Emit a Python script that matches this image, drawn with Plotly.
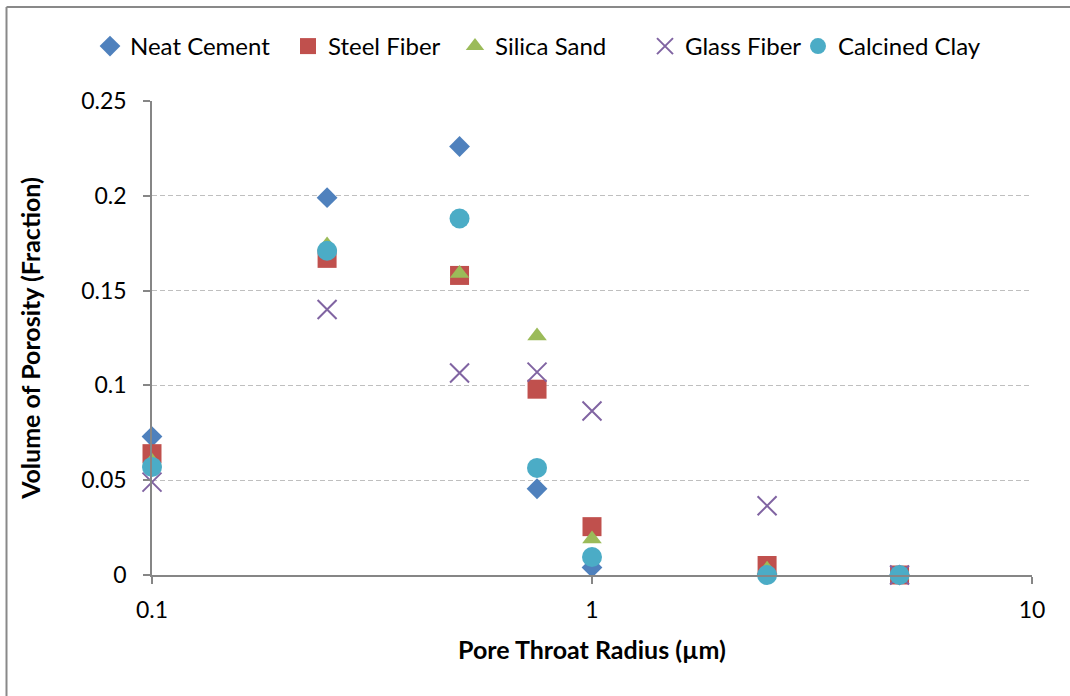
import plotly.graph_objects as go

radius = [0.1, 0.25, 0.5, 0.75, 1.0, 2.5, 5.0]

neat_cement = [0.073, 0.199, 0.226, 0.0455, 0.004, 0.0005, 0.0]
steel_fiber = [0.064, 0.167, 0.158, 0.098, 0.0255, 0.005, 0.0]
silica_sand = [0.060, 0.174, 0.159, 0.126, 0.019, 0.003, 0.0]
glass_fiber = [0.049, 0.140, 0.1065, 0.107, 0.0865, 0.0365, 0.0]
calcined_clay = [0.057, 0.171, 0.188, 0.0565, 0.0095, 0.0, 0.0]

x_ticks = [0.1, 1, 10]
x_tick_text = ["0.1", "1", "10"]
y_ticks = [0, 0.05, 0.1, 0.15, 0.2, 0.25]
y_tick_text = ["0", "0.05", "0.1", "0.15", "0.2", "0.25"]

series = [
    ("Neat Cement", neat_cement, "diamond", 16, "#4F81BD"),
    ("Steel Fiber", steel_fiber, "square", 19, "#C0504D"),
    ("Silica Sand", silica_sand, "triangle-up", 17, "#9BBB59"),
    ("Glass Fiber", glass_fiber, "x-thin", 19, "#8064A2"),
    ("Calcined Clay", calcined_clay, "circle", 20, "#4BACC6"),
]
# legend entry left positions (px, container)
legend_left = [90, 288, 455, 645, 798]

FONT = "Lato"
W, H = 1070, 696
L, R, T, B = 152, 38, 101, 121
PW, PH = W - L - R, H - T - B

fig = go.Figure()
legends = {}
for i, (name, vals, sym, size, col) in enumerate(series):
    if sym == "x-thin":
        marker = dict(symbol=sym, size=size, color=col, line=dict(color=col, width=2))
    else:
        marker = dict(symbol=sym, size=size, color=col, line=dict(width=0))
    lg = "legend" if i == 0 else f"legend{i + 1}"
    fig.add_trace(go.Scatter(x=radius, y=vals, mode="markers", name=name,
                             marker=marker, cliponaxis=False, legend=lg))
    legends[lg] = dict(orientation="h", xref="container", yref="container",
                       x=legend_left[i] / W, xanchor="left",
                       y=1 - 46.5 / H, yanchor="middle",
                       font=dict(size=24), bgcolor="rgba(0,0,0,0)")

fig.update_layout(
    width=W, height=H,
    margin=dict(l=L, r=R, t=T, b=B, autoexpand=False),
    paper_bgcolor="white", plot_bgcolor="white",
    font=dict(family=FONT, size=23, color="#000000"),
    showlegend=True,
    **legends,
)

fig.update_xaxes(
    type="log", range=[-1, 1],
    tickvals=x_ticks, ticktext=x_tick_text,
    showgrid=False, zeroline=False,
    showline=True, linecolor="#868686", linewidth=1.5,
    ticks="outside", ticklen=7, tickcolor="#868686", tickwidth=1.5,
    ticklabelstandoff=7,
    tickfont=dict(size=23),
    title=dict(text="<b>Pore Throat Radius (µm)</b>", font=dict(size=25), standoff=19),
)
fig.update_yaxes(
    range=[0, 0.25],
    tickvals=y_ticks, ticktext=y_tick_text,
    showgrid=True, gridcolor="#BFBFBF", gridwidth=1.2, griddash="5px,3px",
    zeroline=False,
    showline=True, linecolor="#868686", linewidth=1.5,
    ticks="outside", ticklen=7, tickcolor="#868686", tickwidth=1.5,
    ticklabelstandoff=12,
    tickfont=dict(size=23),
    title=dict(text="<b>Volume of Porosity (Fraction)</b>", font=dict(size=25), standoff=33),
)

# outer chart border (left and top edges visible)
bx = (6.5 - L) / PW
by = 1 + (T - 7) / PH
fig.add_shape(type="line", xref="paper", yref="paper",
              x0=bx, x1=1.2, y0=by, y1=by,
              line=dict(color="#898989", width=2))
fig.add_shape(type="line", xref="paper", yref="paper",
              x0=bx, x1=bx, y0=by, y1=-0.3,
              line=dict(color="#898989", width=2))

fig.write_html("out.html", config={"displayModeBar": False},
               post_script="document.body.style.margin='0';document.body.style.overflow='hidden';")
